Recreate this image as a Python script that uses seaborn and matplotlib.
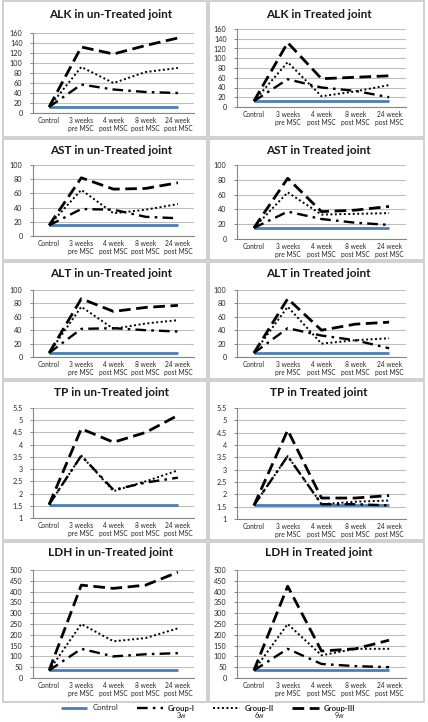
import matplotlib
matplotlib.use("Agg")
import matplotlib.pyplot as plt
from matplotlib.patches import Rectangle
import seaborn as sns
import pandas as pd

# ---------------- data ----------------
categories = ["Control", "3 weeks\npre MSC", "4 week\npost MSC", "8 week\npost MSC", "24 week\npost MSC"]
groups = ["Control", "Group-I", "Group-II", "Group-III"]
group_sub = ["", "3w", "6w", "9w"]

alk_un_control = [12, 12, 12, 12, 12]
alk_un_g1 = [12, 57, 47, 42, 40]
alk_un_g2 = [12, 92, 60, 82, 90]
alk_un_g3 = [12, 132, 118, 135, 150]

alk_tr_control = [12, 12, 12, 12, 12]
alk_tr_g1 = [12, 57, 40, 33, 20]
alk_tr_g2 = [12, 92, 22, 32, 45]
alk_tr_g3 = [12, 132, 58, 61, 64]

ast_un_control = [15, 15, 15, 15, 15]
ast_un_g1 = [15, 38, 37, 27, 25]
ast_un_g2 = [15, 65, 32, 37, 45]
ast_un_g3 = [15, 82, 66, 67, 75]

ast_tr_control = [15, 15, 15, 15, 15]
ast_tr_g1 = [15, 37, 27, 22, 19]
ast_tr_g2 = [15, 63, 33, 34, 35]
ast_tr_g3 = [15, 82, 37, 39, 44]

alt_un_control = [6, 6, 6, 6, 6]
alt_un_g1 = [6, 42, 43, 40, 38]
alt_un_g2 = [6, 75, 42, 50, 55]
alt_un_g3 = [6, 87, 68, 74, 77]

alt_tr_control = [6, 6, 6, 6, 6]
alt_tr_g1 = [6, 43, 32, 25, 13]
alt_tr_g2 = [6, 75, 20, 25, 28]
alt_tr_g3 = [6, 87, 40, 49, 52]

tp_un_control = [1.55, 1.55, 1.55, 1.55, 1.55]
tp_un_g1 = [1.55, 3.55, 2.15, 2.45, 2.65]
tp_un_g2 = [1.55, 3.55, 2.1, 2.5, 2.95]
tp_un_g3 = [1.55, 4.65, 4.1, 4.5, 5.2]

tp_tr_control = [1.55, 1.55, 1.55, 1.55, 1.55]
tp_tr_g1 = [1.55, 3.55, 1.6, 1.6, 1.55]
tp_tr_g2 = [1.55, 3.55, 1.6, 1.7, 1.75]
tp_tr_g3 = [1.55, 4.6, 1.85, 1.85, 1.95]

ldh_un_control = [35, 35, 35, 35, 35]
ldh_un_g1 = [35, 135, 100, 110, 115]
ldh_un_g2 = [35, 250, 170, 185, 230]
ldh_un_g3 = [35, 430, 415, 430, 490]

ldh_tr_control = [35, 35, 35, 35, 35]
ldh_tr_g1 = [35, 135, 65, 55, 50]
ldh_tr_g2 = [35, 250, 105, 135, 135]
ldh_tr_g3 = [35, 425, 125, 135, 175]

titles_left = ["ALK in un-Treated joint", "AST in un-Treated joint", "ALT in un-Treated joint",
               "TP in un-Treated joint", "LDH in un-Treated joint"]
titles_right = ["ALK in Treated joint", "AST in Treated joint", "ALT in Treated joint",
                "TP in Treated joint", "LDH in Treated joint"]

panels_left = [
    [alk_un_control, alk_un_g1, alk_un_g2, alk_un_g3],
    [ast_un_control, ast_un_g1, ast_un_g2, ast_un_g3],
    [alt_un_control, alt_un_g1, alt_un_g2, alt_un_g3],
    [tp_un_control, tp_un_g1, tp_un_g2, tp_un_g3],
    [ldh_un_control, ldh_un_g1, ldh_un_g2, ldh_un_g3],
]
panels_right = [
    [alk_tr_control, alk_tr_g1, alk_tr_g2, alk_tr_g3],
    [ast_tr_control, ast_tr_g1, ast_tr_g2, ast_tr_g3],
    [alt_tr_control, alt_tr_g1, alt_tr_g2, alt_tr_g3],
    [tp_tr_control, tp_tr_g1, tp_tr_g2, tp_tr_g3],
    [ldh_tr_control, ldh_tr_g1, ldh_tr_g2, ldh_tr_g3],
]

y_ranges = [(0, 160, 20), (0, 100, 20), (0, 100, 20), (1, 5.5, 0.5), (0, 500, 50)]

# ---------------- style ----------------
sns.set_theme(style="white")
plt.rcParams["font.family"] = ["Lato", "DejaVu Sans"]

W, H = 428, 722
fig = plt.figure(figsize=(W / 100, H / 100), dpi=100)
fig.patch.set_facecolor("white")


def fx(x):
    return x / W


def fy(y):
    return 1 - y / H


# layout (pixels, top origin)
box_x = [(3, 207), (209, 424)]
row_boxes = [(1, 137), (139, 260), (262, 379), (381, 540), (542, 702)]
ax_x = [(33, 194), (237, 406)]
ax_y_left = [(33, 113), (165, 236), (290, 357), (408, 518), (570, 678)]
ax_y_right = [(29, 107), (165, 239), (290, 357), (408, 519), (570, 678)]
title_y = [15, 150, 273, 393, 553]

colors = ["#4A7EBB", "black", "black", "black"]
lws = [2.0, 1.7, 1.4, 2.0]
dash_specs = [None, (4.5, 2.2, 1.1, 2.2), (1, 1.3), (4.2, 2.0)]

grid_col = "#BEBEBE"
axis_col = "#868686"
text_col = "#262626"

x_idx = list(range(len(categories)))

for side in range(2):
    panels = panels_left if side == 0 else panels_right
    titles = titles_left if side == 0 else titles_right
    ay = ax_y_left if side == 0 else ax_y_right
    for r in range(5):
        # panel border
        bt, bb = row_boxes[r]
        bl, br = box_x[side]
        fig.patches.append(Rectangle((fx(bl), fy(bb)), (br - bl) / W, (bb - bt) / H,
                                     transform=fig.transFigure, fill=False,
                                     edgecolor="#C8C8C8", linewidth=1.2, zorder=0))
        l, rr = ax_x[side]
        t, b = ay[r]
        ax = fig.add_axes([fx(l), fy(b), (rr - l) / W, (b - t) / H])
        series = panels[r]
        for gi, vals in enumerate(series):
            df = pd.DataFrame({"x": x_idx, "y": vals})
            sns.lineplot(data=df, x="x", y="y", ax=ax, color=colors[gi],
                         linewidth=lws[gi], label=groups[gi], legend=False)
            ln = ax.lines[-1]
            if dash_specs[gi] is not None:
                ln.set_dashes(dash_specs[gi])
            ln.set_solid_capstyle("butt")
            ln.set_dash_capstyle("butt")
        lo, hi, st = y_ranges[r]
        n = int(round((hi - lo) / st))
        ticks = [lo + i * st for i in range(n + 1)]
        ax.set_ylim(lo, hi)
        ax.set_yticks(ticks)
        ax.set_yticklabels([f"{v:g}" for v in ticks])
        ax.set_xlim(-0.5, len(categories) - 0.5)
        ax.set_xticks(x_idx)
        ax.set_xticklabels(categories)
        ax.set_xticks([i - 0.5 for i in range(len(categories) + 1)], minor=True)
        ax.set_xlabel("")
        ax.set_ylabel("")
        ax.grid(axis="y", color=grid_col, linewidth=0.8)
        ax.set_axisbelow(True)
        for s in ["top", "right"]:
            ax.spines[s].set_visible(False)
        for s in ["left", "bottom"]:
            ax.spines[s].set_color(axis_col)
            ax.spines[s].set_linewidth(0.8)
        ax.tick_params(axis="x", which="major", length=0, labelsize=4.8,
                       colors=text_col, pad=3)
        ax.tick_params(axis="x", which="minor", length=2.5, color=axis_col,
                       width=0.7, direction="out")
        ax.tick_params(axis="y", which="major", length=2.5, color=axis_col,
                       width=0.7, labelsize=5.2, labelcolor=text_col, pad=5,
                       direction="out", left=True)
        for lab in ax.get_xticklabels():
            lab.set_linespacing(1.1)
        ax.set_facecolor("none")
        cx = (bl + br) / 2 + (6 if side == 0 else 2)
        fig.text(fx(cx), fy(title_y[r]), titles[r], ha="center", va="center",
                 fontsize=8.5, fontweight="bold", color="#1a1a1a")

# legend built from the last axis' lines
handles = ax.lines[:4]
leg = fig.legend(handles, groups, loc="center", bbox_to_anchor=(fx(208), fy(708)),
                 ncol=4, frameon=False, fontsize=5.6, handlelength=3.4,
                 columnspacing=2.4, handletextpad=0.6, borderpad=0)
for i, txt in enumerate(leg.get_texts()):
    txt.set_color(text_col)
    if i > 0:
        txt.set_fontweight("bold")

fig.canvas.draw()
renderer = fig.canvas.get_renderer()
for i, txt in enumerate(leg.get_texts()):
    if group_sub[i]:
        bb = txt.get_window_extent(renderer)
        cxp = (bb.x0 + bb.x1) / 2
        fig.text(cxp / fig.dpi / fig.get_figwidth(), (bb.y0 - 4) / fig.dpi / fig.get_figheight(),
                 group_sub[i], ha="center", va="center", fontsize=5.0, color=text_col)

fig.savefig("out.png", dpi=100, facecolor="white")
